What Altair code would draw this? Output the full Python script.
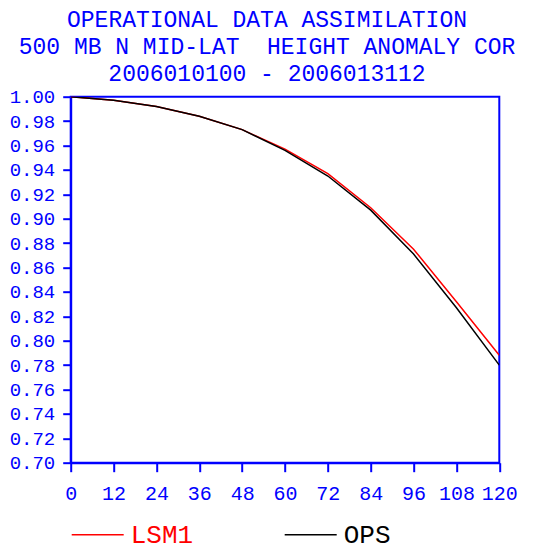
import altair as alt
import pandas as pd

hours = [0, 12, 24, 36, 48, 60, 72, 84, 96, 108, 120]
lsm1 = [1.000, 0.997, 0.992, 0.984, 0.973, 0.957, 0.937, 0.909, 0.875, 0.832, 0.788]
ops = [1.000, 0.997, 0.992, 0.984, 0.973, 0.956, 0.935, 0.907, 0.871, 0.827, 0.780]
series = ["LSM1", "OPS"]
colors = ["#ff0000", "#000000"]
x_ticks = [0, 12, 24, 36, 48, 60, 72, 84, 96, 108, 120]
y_ticks = [0.70, 0.72, 0.74, 0.76, 0.78, 0.80, 0.82, 0.84, 0.86, 0.88,
           0.90, 0.92, 0.94, 0.96, 0.98, 1.00]
title_lines = [
    "OPERATIONAL DATA ASSIMILATION",
    "500 MB N MID-LAT\u00a0 HEIGHT ANOMALY COR",
    "2006010100 - 2006013112",
]

rows = []
for name, vals in zip(series, [lsm1, ops]):
    for h, v in zip(hours, vals):
        rows.append({"series": name, "hour": h, "value": v})
df = pd.DataFrame(rows)

BLUE = "#0000ff"
FONT = "Liberation Mono"

axis_common = dict(
    title=None, grid=False, domainColor=BLUE, domainWidth=2, tickColor=BLUE,
    tickWidth=2, labelColor=BLUE, labelFont=FONT, labelOverlap=False,
    labelFlush=False,
)

chart = alt.Chart(df).mark_line(strokeWidth=1.5, clip=True).encode(
    x=alt.X("hour:Q", scale=alt.Scale(domain=[0, 120], nice=False, zero=False),
            axis=alt.Axis(values=x_ticks, tickSize=9, labelPadding=12,
                          labelFontSize=20, **axis_common)),
    y=alt.Y("value:Q", scale=alt.Scale(domain=[0.70, 1.00], nice=False, zero=False),
            axis=alt.Axis(values=y_ticks, format=".2f", tickSize=8, labelPadding=8,
                          labelFontSize=19, **axis_common)),
    color=alt.Color("series:N", scale=alt.Scale(domain=series, range=colors),
                    legend=alt.Legend(
                        title=None, orient="none", legendX=0, legendY=411,
                        direction="horizontal", symbolType="stroke",
                        symbolSize=2704, symbolStrokeWidth=1.5,
                        labelFont=FONT, labelFontSize=26, labelOffset=6,
                        columnPadding=88, padding=0,
                        labelColor=alt.ExprRef(expr="datum.value == 'LSM1' ? '#ff0000' : '#000000'"),
                    )),
).properties(
    width=428.6,
    height=366,
    autosize=alt.AutoSizeParams(type="none"),
    padding={"left": 62.7, "top": 88.7, "right": 47, "bottom": 88},
    title=alt.TitleParams(text=title_lines, font=FONT, fontSize=23, color=BLUE,
                          fontWeight="normal", anchor="middle", dx=-18,
                          offset=2, lineHeight=27),
).configure_view(stroke=BLUE, strokeWidth=2)

chart.save("out.html", embed_options={"renderer": "svg", "actions": False})
